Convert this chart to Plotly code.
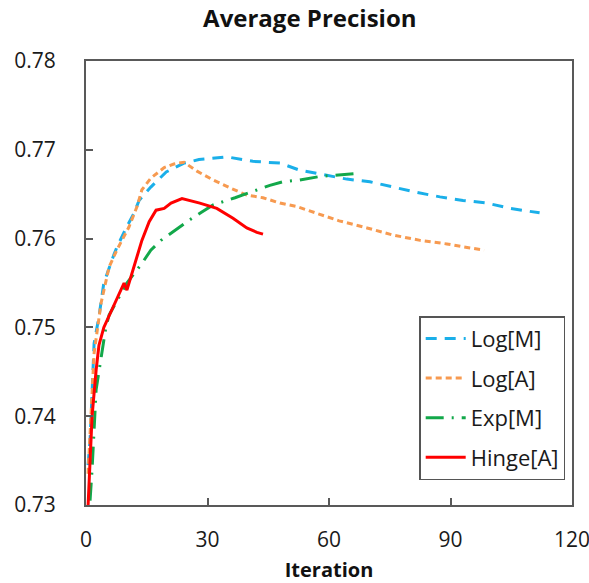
import plotly.graph_objects as go

# Data
log_m_x = [0.5, 1.0, 1.5, 2.0, 3.2, 4.4, 6.9, 7.6, 9.9, 11.9, 13.1, 16.0, 19.8, 24.2, 27.9, 34.8, 41.2, 47.9, 52.8, 58.5, 64.4, 70.1, 75.8, 81.7, 87.4, 93.1, 99.0, 104.7, 112.0]
log_m_y = [0.7345, 0.7373, 0.7426, 0.7482, 0.7512, 0.7550, 0.7582, 0.7590, 0.7612, 0.7629, 0.7643, 0.7658, 0.7675, 0.7685, 0.7689, 0.7692, 0.7687, 0.7685, 0.7677, 0.7672, 0.7667, 0.7664, 0.7658, 0.7652, 0.7647, 0.7643, 0.7640, 0.7634, 0.7629]

log_a_x = [0.5, 1.0, 1.5, 2.0, 3.7, 5.7, 7.6, 10.6, 12.6, 13.8, 16.0, 19.3, 21.7, 24.2, 27.4, 31.4, 35.6, 39.7, 43.7, 47.9, 52.1, 56.0, 62.5, 69.4, 75.8, 82.5, 89.1, 94.1, 98.3]
log_a_y = [0.7335, 0.7385, 0.7430, 0.7471, 0.7527, 0.7568, 0.7587, 0.7613, 0.7636, 0.7655, 0.7668, 0.7680, 0.7684, 0.7686, 0.7676, 0.7666, 0.7657, 0.7649, 0.7646, 0.7640, 0.7636, 0.7630, 0.7620, 0.7612, 0.7604, 0.7598, 0.7594, 0.7590, 0.7587]

exp_m_x = [1.0, 1.5, 2.5, 4.9, 5.7, 10.1, 13.8, 16.0, 18.5, 23.0, 25.9, 28.6, 31.4, 36.8, 39.7, 45.4, 48.6, 52.8, 57.8, 61.0, 66.2]
exp_m_y = [0.7305, 0.7340, 0.7430, 0.7500, 0.7514, 0.7550, 0.7572, 0.7587, 0.7598, 0.7613, 0.7622, 0.7630, 0.7638, 0.7646, 0.7651, 0.7660, 0.7664, 0.7666, 0.7670, 0.7671, 0.7673]

hinge_a_x = [0.5, 1.5, 2.5, 3.2, 4.4, 7.4, 9.4, 10.1, 12.3, 13.8, 15.6, 17.3, 19.3, 21.0, 23.7, 28.1, 32.3, 36.3, 39.7, 42.2, 43.7]
hinge_a_y = [0.7298, 0.7400, 0.7452, 0.7480, 0.7500, 0.7531, 0.7550, 0.7542, 0.7576, 0.7598, 0.7619, 0.7632, 0.7634, 0.7640, 0.7645, 0.7640, 0.7634, 0.7623, 0.7612, 0.7607, 0.7605]

series_names = ["Log[M]", "Log[A]", "Exp[M]", "Hinge[A]"]
x_ticks = [0, 30, 60, 90, 120]
y_ticks = [0.73, 0.74, 0.75, 0.76, 0.77, 0.78]

font_family = "Open Sans, Liberation Sans, sans-serif"
axis_color = "#595959"

fig = go.Figure()
styles = [
    dict(color="#1AAFE9", width=3, dash="11px,8px"),
    dict(color="#F79A50", width=3, dash="6px,4px"),
    dict(color="#12A84A", width=3, dash="18px,8px,2px,8px"),
    dict(color="#FF0000", width=3, dash="solid"),
]
for i, (xs, ys) in enumerate([(log_m_x, log_m_y), (log_a_x, log_a_y), (exp_m_x, exp_m_y), (hinge_a_x, hinge_a_y)]):
    fig.add_trace(go.Scatter(x=xs, y=ys, mode="lines", name=series_names[i],
                             line=styles[i], legendgroup=f"g{i}"))

fig.update_layout(
    width=589, height=583,
    margin=dict(l=86, r=17, t=61, b=78, autoexpand=False),
    paper_bgcolor="white", plot_bgcolor="white",
    font=dict(family=font_family, size=21, color="#1a1a1a"),
    title=dict(text="<b>Average Precision</b>", x=0.526, xanchor="center", y=0.968, yanchor="middle",
               font=dict(size=24, color="#111111")),
    showlegend=True,
    legend=dict(x=0.986, xanchor="right", y=0.056, yanchor="bottom",
                bordercolor="#555555", borderwidth=1.5, bgcolor="white",
                font=dict(size=22, color="#1a1a1a"), tracegroupgap=8,
                itemwidth=40),
)
fig.update_xaxes(range=[0, 120], tickvals=x_ticks, ticks="inside", ticklen=7, tickwidth=1.5,
                 tickcolor=axis_color, showline=True, linecolor=axis_color, linewidth=2,
                 mirror=True, showgrid=False, zeroline=False, automargin=False,
                 ticklabeloverflow="allow",
                 title=dict(text="<b>Iteration</b>", font=dict(size=20, color="#111111"), standoff=18),
                 ticklabelstandoff=15)
fig.update_yaxes(range=[0.73, 0.78], tickvals=y_ticks, tickformat=".2f", ticks="inside", ticklen=7,
                 tickwidth=1.5, tickcolor=axis_color, showline=True, linecolor=axis_color, linewidth=2,
                 mirror=True, showgrid=False, zeroline=False, automargin=False, ticklabelstandoff=24,
                 ticklabeloverflow="allow")

fig.write_html("out.html")
